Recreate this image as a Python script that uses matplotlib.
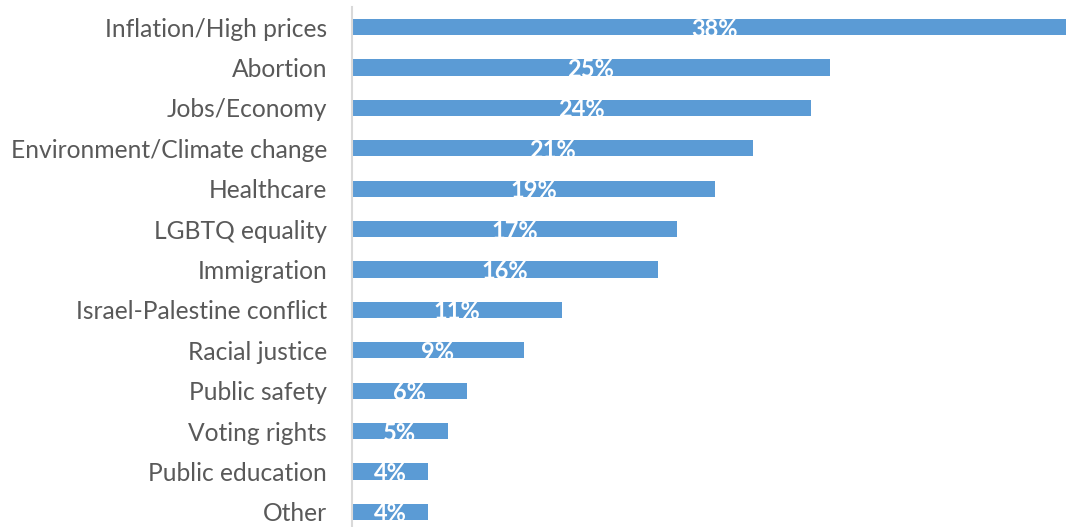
import matplotlib
matplotlib.use("Agg")
import matplotlib.pyplot as plt

categories = ["Inflation/High prices", "Abortion", "Jobs/Economy",
              "Environment/Climate change", "Healthcare", "LGBTQ equality",
              "Immigration", "Israel-Palestine conflict", "Racial justice",
              "Public safety", "Voting rights", "Public education", "Other"]
values = [38, 25, 24, 21, 19, 17, 16, 11, 9, 6, 5, 4, 4]

W, H = 1066, 527
fig = plt.figure(figsize=(W/100, H/100), dpi=100)
# axes runs a bit past the right/bottom edge, as in the original crop
ax = fig.add_axes([352/W, 1 - 532/H, 726/W, (532 - 7)/H])

ypos = list(range(len(categories)))[::-1]
bars = ax.barh(ypos, values, height=0.4, color="#5B9BD5", zorder=2)

for y, v in zip(ypos, values):
    ax.text(v/2, y - 0.05, f"{v}%", ha="center", va="center", color="white",
            fontsize=17, fontweight="bold", family="Lato", zorder=3)

ax.set_xlim(0, 38)
ax.set_ylim(-0.5, len(categories) - 0.5)
ax.set_yticks(ypos)
ax.set_yticklabels(categories, fontsize=17.7, color="#595959", family="Lato")
ax.tick_params(axis="y", length=0, pad=18)
ax.set_xticks([])
for s in ["top", "right", "bottom"]:
    ax.spines[s].set_visible(False)
ax.spines["left"].set_color("#D9D9D9")
ax.spines["left"].set_linewidth(1.5)

fig.savefig("out.png", dpi=100)
